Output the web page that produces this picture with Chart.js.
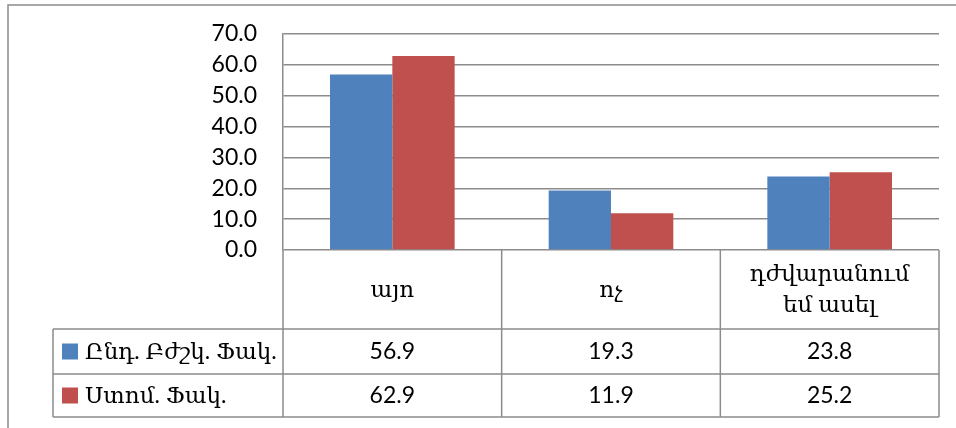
<!DOCTYPE html>
<html>
<head>
<meta charset="utf-8">
<script src="https://cdn.jsdelivr.net/npm/chart.js@4"></script>
<style>
  html, body { margin: 0; padding: 0; background: #fff; }
  canvas { display: block; }
</style>
</head>
<body>
<canvas id="survey_chart" width="956" height="428"></canvas>
<script>
var categories = [["այո"], ["ոչ"], ["դժվարանում", "եմ ասել"]];
var series_names = ["Ընդ. Բժշկ. Ֆակ.", "Ստոմ. Ֆակ."];
var series_colors = ["#4F81BD", "#C0504D"];
var general_medicine = [56.9, 19.3, 23.8];
var dentistry = [62.9, 11.9, 25.2];
var y_ticks = [0, 10, 20, 30, 40, 50, 60, 70];

var FONT = "Lato, 'DejaVu Serif', sans-serif";
var LINE = "#8c8c8c";

// data table under the plot, drawn like the excel one
var dataTablePlugin = {
    id: 'dataTable',
    beforeDraw: function (chart) {
        var ctx = chart.ctx;
        ctx.save();
        ctx.strokeStyle = LINE;
        ctx.lineWidth = 1.5;
        ctx.beginPath();
        ctx.moveTo(8, 428);
        ctx.lineTo(8, 5);
        ctx.lineTo(956, 5);
        ctx.stroke();
        ctx.restore();
    },
    afterDraw: function (chart) {
        var ctx = chart.ctx;
        var area = chart.chartArea;
        var xs = chart.scales.x;
        var n = categories.length;
        var half = (area.right - area.left) / n / 2;
        var headBottom = area.bottom + 79;
        var rowBottoms = [headBottom + 45, headBottom + 88];
        var legendLeft = 53;
        var values = [general_medicine, dentistry];

        ctx.save();
        ctx.strokeStyle = LINE;
        ctx.lineWidth = 1.5;
        ctx.beginPath();
        ctx.moveTo(area.left, area.bottom);
        ctx.lineTo(area.left, rowBottoms[1]);
        for (var i = 0; i < n; i++) {
            var r = xs.getPixelForValue(i) + half;
            ctx.moveTo(r, area.bottom);
            ctx.lineTo(r, rowBottoms[1]);
        }
        ctx.moveTo(legendLeft, headBottom);
        ctx.lineTo(area.right, headBottom);
        for (var k = 0; k < rowBottoms.length; k++) {
            ctx.moveTo(legendLeft, rowBottoms[k]);
            ctx.lineTo(area.right, rowBottoms[k]);
        }
        ctx.moveTo(legendLeft, headBottom);
        ctx.lineTo(legendLeft, rowBottoms[1]);
        ctx.stroke();

        ctx.fillStyle = "#000";
        ctx.font = "23px " + FONT;
        ctx.textAlign = "center";
        ctx.textBaseline = "middle";
        for (var c = 0; c < n; c++) {
            var cx = xs.getPixelForValue(c);
            var lines = categories[c];
            var mid = (area.bottom + headBottom) / 2;
            for (var l = 0; l < lines.length; l++) {
                ctx.fillText(lines[l], cx, mid + (l - (lines.length - 1) / 2) * 31);
            }
        }

        var rowTop = headBottom;
        for (var s = 0; s < values.length; s++) {
            var cy = (rowTop + rowBottoms[s]) / 2;
            ctx.textAlign = "center";
            for (var j = 0; j < n; j++) {
                ctx.fillText(values[s][j].toFixed(1), xs.getPixelForValue(j), cy);
            }
            ctx.fillStyle = series_colors[s];
            ctx.fillRect(62, cy - 8, 16, 16);
            ctx.fillStyle = "#000";
            ctx.textAlign = "left";
            ctx.fillText(series_names[s], 85, cy);
            rowTop = rowBottoms[s];
        }
        ctx.restore();
    }
};

function buildSurveyChart() {
    var ctx = document.getElementById('survey_chart');
    new Chart(ctx, {
        type: 'bar',
        data: {
            labels: categories,
            datasets: [{
                label: series_names[0],
                data: general_medicine,
                backgroundColor: series_colors[0],
                borderWidth: 0
            }, {
                label: series_names[1],
                data: dentistry,
                backgroundColor: series_colors[1],
                borderWidth: 0
            }]
        },
        options: {
            responsive: false,
            animation: false,
            layout: {
                padding: { left: 0, top: 34, right: 17, bottom: 178 }
            },
            datasets: {
                bar: { barPercentage: 1, categoryPercentage: 0.57 }
            },
            plugins: {
                legend: { display: false },
                tooltip: { enabled: false }
            },
            scales: {
                x: {
                    ticks: { display: false },
                    grid: { display: false },
                    border: { display: false },
                    afterFit: function (scale) {
                        scale.height = 0;
                    }
                },
                y: {
                    min: 0,
                    max: 70,
                    afterBuildTicks: function (scale) {
                        scale.ticks = y_ticks.map(function (v) { return { value: v }; });
                    },
                    afterFit: function (scale) {
                        scale.width = 283;
                        scale.paddingTop = 0;
                        scale.paddingBottom = 0;
                    },
                    ticks: {
                        color: "#000",
                        autoSkip: false,
                        font: { family: FONT, size: 23 },
                        padding: 26,
                        callback: function (v) { return Number(v).toFixed(1); }
                    },
                    grid: { color: LINE, lineWidth: 1.5, drawTicks: false },
                    border: { color: LINE, width: 1.5 }
                }
            }
        },
        plugins: [dataTablePlugin]
    });
}

buildSurveyChart();
</script>
</body>
</html>
